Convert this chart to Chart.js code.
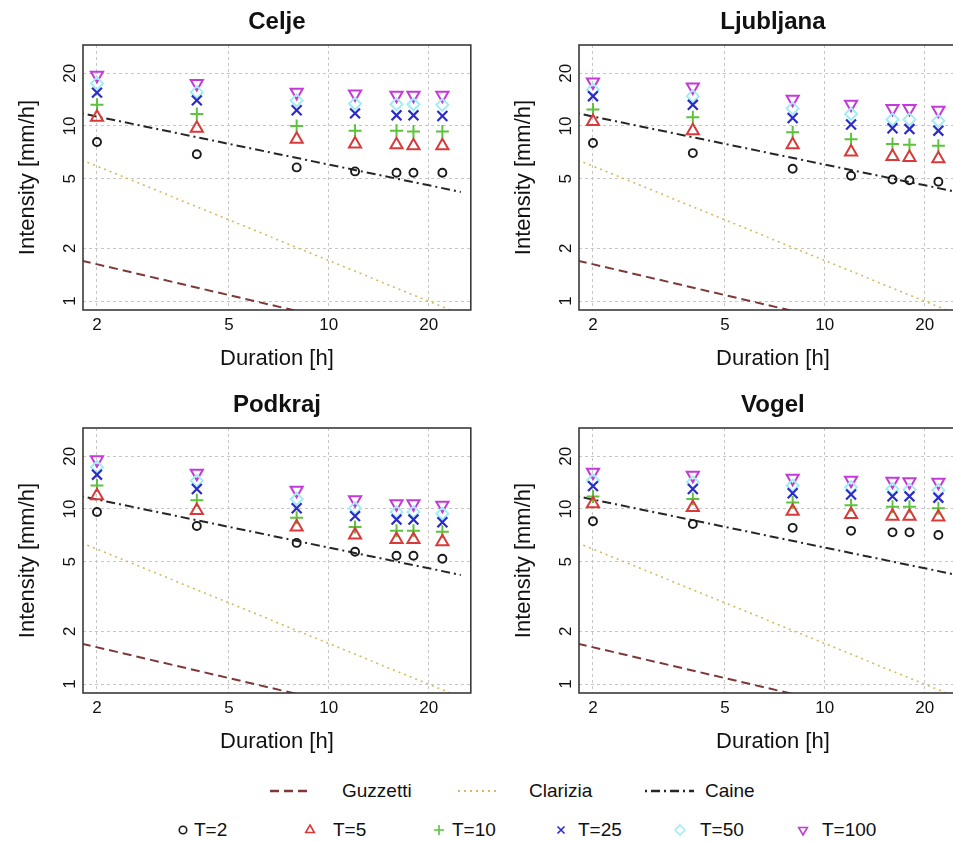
<!DOCTYPE html>
<html>
<head>
<meta charset="utf-8">
<title>Rainfall intensity vs duration</title>
<script src="https://cdn.jsdelivr.net/npm/chart.js@4.4.1/dist/chart.umd.min.js"></script>
<style>
  html, body { margin: 0; padding: 0; background: #fff; overflow: hidden; }
  body { width: 953px; height: 842px; position: relative; font-family: "Liberation Sans", Arial, sans-serif; color: #111; }
  canvas.panel { position: absolute; }
  .legend-text { position: absolute; font-size: 19px; line-height: 22px; white-space: nowrap; }
  canvas.icon { position: absolute; }
</style>
</head>
<body>
<canvas id="celje" class="panel" width="480" height="380" style="left:0;top:0"></canvas>
<canvas id="ljubljana" class="panel" width="480" height="380" style="left:496px;top:0"></canvas>
<canvas id="podkraj" class="panel" width="480" height="380" style="left:0;top:383px"></canvas>
<canvas id="vogel" class="panel" width="480" height="380" style="left:496px;top:383px"></canvas>
<div id="legend"></div>

<script>
// Durations (h) and return periods
const durations = [2, 4, 8, 12, 16, 18, 22];
const periodLabels = ["T=2", "T=5", "T=10", "T=25", "T=50", "T=100"];

// Intensity (mm/h), one row per return period, one value per duration
const celje = [
  [8.1, 6.9, 5.8, 5.5, 5.4, 5.4, 5.4],
  [11.2, 9.7, 8.4, 7.9, 7.8, 7.7, 7.7],
  [13.2, 11.7, 10.0, 9.4, 9.4, 9.3, 9.3],
  [15.5, 14.0, 12.3, 11.8, 11.5, 11.5, 11.4],
  [17.5, 15.6, 14.0, 13.4, 13.3, 13.3, 13.2],
  [19.5, 17.5, 15.6, 15.2, 15.0, 15.0, 15.0],
];
const ljubljana = [
  [8.0, 7.0, 5.7, 5.2, 4.95, 4.9, 4.8],
  [10.6, 9.4, 7.8, 7.1, 6.7, 6.6, 6.5],
  [12.4, 11.2, 9.2, 8.4, 7.9, 7.8, 7.7],
  [14.8, 13.2, 11.1, 10.2, 9.7, 9.6, 9.4],
  [16.1, 14.8, 12.6, 11.7, 10.9, 10.9, 10.7],
  [17.8, 16.7, 14.2, 13.3, 12.6, 12.6, 12.3],
];
const podkraj = [
  [9.6, 8.0, 6.4, 5.7, 5.4, 5.4, 5.2],
  [11.9, 9.8, 7.9, 7.1, 6.7, 6.7, 6.5],
  [13.6, 11.2, 8.9, 7.9, 7.5, 7.5, 7.4],
  [15.7, 13.0, 10.1, 9.1, 8.7, 8.7, 8.4],
  [17.3, 14.5, 11.4, 10.1, 9.6, 9.6, 9.4],
  [19.1, 16.0, 12.8, 11.3, 10.7, 10.7, 10.5],
];
const vogel = [
  [8.5, 8.2, 7.8, 7.5, 7.35, 7.35, 7.1],
  [10.7, 10.2, 9.7, 9.3, 9.1, 9.1, 9.0],
  [11.8, 11.4, 10.9, 10.5, 10.3, 10.3, 10.1],
  [13.5, 13.0, 12.3, 12.1, 11.8, 11.8, 11.6],
  [14.6, 14.2, 13.6, 13.3, 13.0, 12.9, 12.8],
  [16.2, 15.6, 15.0, 14.6, 14.4, 14.3, 14.2],
];

// Threshold lines: intensity at the two ends of the drawn range
const thresholdLabels = ["Guzzetti", "Clarizia", "Caine"];
const lineEnds = [1.8, 25];
const guzzetti = [1.7, 0.53];
const clarizia = [6.4, 0.84];
const caine = [11.8, 4.2];

// Axes
const xTicks = [2, 5, 10, 20];
const yTicks = [1, 2, 5, 10, 20];
const xRange = [1.815, 26.8];
const yRange = [0.889, 29];

Chart.defaults.font.family = '"Liberation Sans", Arial, sans-serif';
Chart.defaults.color = "#111";

const lineStyles = [
  { color: "#7e3838", dash: [9, 5], width: 2 },
  { color: "#d9b85e", dash: [2, 4], width: 1.6 },
  { color: "#262626", dash: [2, 4, 9, 4], width: 2 },
];

const markerStyles = [
  { pointStyle: "circle", radius: 4, color: "#1a1a1a", width: 1.9, rotation: 0 },
  { pointStyle: "triangle", radius: 7, color: "#d83a3a", width: 2, rotation: 0 },
  { pointStyle: "cross", radius: 6.5, color: "#5cc43c", width: 2, rotation: 0 },
  { pointStyle: "crossRot", radius: 7, color: "#2b2bc9", width: 2.2, rotation: 0 },
  { pointStyle: "rectRot", radius: 6, color: "#a2edf4", width: 2, rotation: 0 },
  { pointStyle: "triangle", radius: 7, color: "#c43ad8", width: 2, rotation: 180 },
];

// Full box round the plot area
const boxPlugin = {
  id: "box",
  afterDatasetsDraw(chart) {
    const { ctx, chartArea: a } = chart;
    ctx.save();
    ctx.strokeStyle = "#3a3a3a";
    ctx.lineWidth = 1.6;
    ctx.strokeRect(a.left, a.top, a.right - a.left, a.bottom - a.top);
    ctx.restore();
  },
};

function makePanel(id, title, rows) {
  const datasets = [];
  [guzzetti, clarizia, caine].forEach((vals, i) => {
    datasets.push({
      label: thresholdLabels[i],
      data: lineEnds.map((d, j) => ({ x: d, y: vals[j] })),
      showLine: true,
      borderColor: lineStyles[i].color,
      borderDash: lineStyles[i].dash,
      borderWidth: lineStyles[i].width,
      pointRadius: 0,
      order: 1,
    });
  });
  rows.forEach((vals, i) => {
    const m = markerStyles[i];
    datasets.push({
      label: periodLabels[i],
      data: durations.map((d, j) => ({ x: d, y: vals[j] })),
      pointStyle: m.pointStyle,
      pointRadius: m.radius,
      pointRotation: m.rotation,
      pointBorderWidth: m.width,
      borderColor: m.color,
      backgroundColor: "rgba(0,0,0,0)",
      order: 0,
    });
  });

  new Chart(document.getElementById(id), {
    type: "scatter",
    data: { datasets },
    options: {
      responsive: false,
      animation: false,
      devicePixelRatio: 1,
      layout: { padding: { top: 0, right: 9, bottom: 0, left: 0 } },
      plugins: {
        legend: { display: false },
        tooltip: { enabled: false },
        title: {
          display: true,
          text: title,
          fullSize: false,
          color: "#111",
          font: { size: 24, weight: "bold" },
          padding: { top: 7.6, bottom: 8.6 },
        },
      },
      scales: {
        x: {
          type: "logarithmic",
          min: xRange[0],
          max: xRange[1],
          bounds: "data",
          afterBuildTicks: (s) => { s.ticks = xTicks.map((v) => ({ value: v })); },
          afterFit: (s) => { s.height = 70; },
          ticks: { callback: (v) => String(v), font: { size: 17 }, color: "#111", padding: 5, autoSkip: false, maxRotation: 0 },
          grid: { color: "#c6c6c6", drawTicks: false },
          border: { display: false, dash: [3, 3] },
          title: { display: true, text: "Duration [h]", font: { size: 22 }, color: "#111", padding: { top: 0, bottom: 7.5 } },
        },
        y: {
          type: "logarithmic",
          min: yRange[0],
          max: yRange[1],
          bounds: "data",
          afterBuildTicks: (s) => { s.ticks = yTicks.map((v) => ({ value: v })); },
          afterFit: (s) => { s.width = 83; },
          ticks: { callback: (v) => String(v), font: { size: 17 }, color: "#111", padding: 3, autoSkip: false, minRotation: 90, maxRotation: 90, crossAlign: "center" },
          grid: { color: "#c6c6c6", drawTicks: false },
          border: { display: false, dash: [3, 3] },
          title: { display: true, text: "Intensity [mm/h]", font: { size: 22 }, color: "#111", padding: { top: 14.3, bottom: 0 } },
        },
      },
    },
    plugins: [boxPlugin],
  });
}

makePanel("celje", "Celje", celje);
makePanel("ljubljana", "Ljubljana", ljubljana);
makePanel("podkraj", "Podkraj", podkraj);
makePanel("vogel", "Vogel", vogel);

// Legend (HTML text, small canvas symbols)
const legend = document.getElementById("legend");

function addText(text, left, centerY) {
  const span = document.createElement("span");
  span.className = "legend-text";
  span.textContent = text;
  span.style.left = left + "px";
  span.style.top = centerY - 11 + "px";
  legend.appendChild(span);
}

function addIcon(left, centerY, w, h, draw) {
  const c = document.createElement("canvas");
  c.className = "icon";
  c.width = w;
  c.height = h;
  c.style.left = left + "px";
  c.style.top = centerY - h / 2 + "px";
  legend.appendChild(c);
  draw(c.getContext("2d"), w, h);
}

// Row 1: threshold lines
const lineSampleX = [[270, 307], [458, 497], [645, 694]];
const lineTextX = [342, 529, 705];
thresholdLabels.forEach((label, i) => {
  const [a, b] = lineSampleX[i];
  const st = lineStyles[i];
  addIcon(a, 791, b - a, 10, (ctx, w, h) => {
    ctx.strokeStyle = st.color;
    ctx.lineWidth = st.width + 0.6;
    ctx.setLineDash(st.dash);
    ctx.beginPath();
    ctx.moveTo(0, h / 2);
    ctx.lineTo(w, h / 2);
    ctx.stroke();
  });
  addText(label, lineTextX[i], 791);
});

// Row 2: return-period markers
const markerX = [183, 310, 439, 561, 680, 803];
const markerTextX = [194, 333, 452, 578, 700, 822];

function drawSymbol(ctx, m, cx, cy, r) {
  ctx.strokeStyle = m.color;
  ctx.lineWidth = 1.6;
  ctx.beginPath();
  if (m.pointStyle === "circle") {
    ctx.arc(cx, cy, r * 0.75, 0, Math.PI * 2);
  } else if (m.pointStyle === "triangle") {
    const s = m.rotation === 180 ? -1 : 1;
    ctx.moveTo(cx, cy - s * r);
    ctx.lineTo(cx + r * 0.87, cy + s * r * 0.5);
    ctx.lineTo(cx - r * 0.87, cy + s * r * 0.5);
    ctx.closePath();
  } else if (m.pointStyle === "cross") {
    ctx.moveTo(cx - r, cy); ctx.lineTo(cx + r, cy);
    ctx.moveTo(cx, cy - r); ctx.lineTo(cx, cy + r);
  } else if (m.pointStyle === "crossRot") {
    const k = r * 0.7;
    ctx.moveTo(cx - k, cy - k); ctx.lineTo(cx + k, cy + k);
    ctx.moveTo(cx - k, cy + k); ctx.lineTo(cx + k, cy - k);
  } else if (m.pointStyle === "rectRot") {
    ctx.moveTo(cx, cy - r); ctx.lineTo(cx + r, cy);
    ctx.lineTo(cx, cy + r); ctx.lineTo(cx - r, cy);
    ctx.closePath();
  }
  ctx.stroke();
}

periodLabels.forEach((label, i) => {
  addIcon(markerX[i] - 8, 830, 16, 16, (ctx) => drawSymbol(ctx, markerStyles[i], 8, 8, 5));
  addText(label, markerTextX[i], 830);
});
</script>
</body>
</html>
